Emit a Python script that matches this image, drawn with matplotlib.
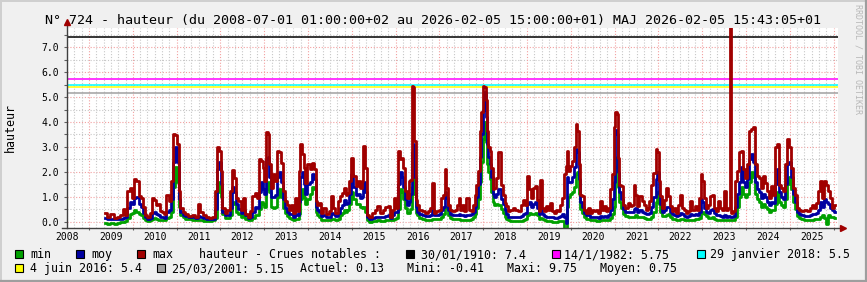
import matplotlib
matplotlib.use('Agg')
import numpy as np
import matplotlib.pyplot as plt
from matplotlib.patches import Rectangle
from matplotlib.lines import Line2D

#--- data: hauteur (m), time as decimal years ---#
dates = [
    2009.37, 2009.44, 2009.52, 2009.60, 2009.67, 2009.75, 2009.79, 2009.85, 2009.90, 2009.95,
    2010.00, 2010.05, 2010.11, 2010.15, 2010.20, 2010.24, 2010.30, 2010.36, 2010.41, 2010.46,
    2010.50, 2010.55, 2010.59, 2010.64, 2010.68, 2010.74, 2010.79, 2010.84, 2010.89, 2010.94,
    2010.99, 2011.03, 2011.06, 2011.11, 2011.16, 2011.23, 2011.31, 2011.38, 2011.46, 2011.51,
    2011.55, 2011.63, 2011.70, 2011.78, 2011.84, 2011.90, 2011.95, 2011.99, 2012.02, 2012.07,
    2012.13, 2012.19, 2012.24, 2012.28, 2012.32, 2012.37, 2012.43, 2012.49, 2012.54, 2012.60,
    2012.66,
    2012.70, 2012.75, 2012.81, 2012.85, 2012.91, 2012.94, 2012.98, 2013.02, 2013.06, 2013.10,
    2013.13, 2013.17, 2013.22, 2013.26, 2013.31, 2013.36, 2013.40, 2013.45, 2013.49, 2013.54,
    2013.58, 2013.63, 2013.68, 2013.72, 2013.77, 2013.80, 2013.84, 2013.88, 2013.92, 2013.96,
    2014.01, 2014.06, 2014.10, 2014.15, 2014.19, 2014.24, 2014.28, 2014.33, 2014.37, 2014.44,
    2014.50, 2014.56, 2014.60, 2014.65, 2014.70, 2014.74, 2014.79, 2014.83, 2014.88, 2014.92,
    2014.97, 2015.01, 2015.06, 2015.11, 2015.15, 2015.20, 2015.24, 2015.29, 2015.33, 2015.36,
    2015.43, 2015.49, 2015.55, 2015.61, 2015.67, 2015.73, 2015.79, 2015.85, 2015.91,
    2015.94, 2015.99, 2016.03, 2016.07, 2016.12, 2016.16, 2016.19, 2016.24, 2016.28, 2016.32,
    2016.35, 2016.38, 2016.41, 2016.44, 2016.47, 2016.51, 2016.57, 2016.63, 2016.70, 2016.76,
    2016.80, 2016.85, 2016.89, 2016.95, 2017.01, 2017.06, 2017.11, 2017.14, 2017.18, 2017.23,
    2017.27, 2017.32, 2017.37, 2017.41, 2017.46, 2017.50, 2017.55, 2017.59, 2017.64, 2017.69,
    2017.73, 2017.78, 2017.82, 2017.87, 2017.91, 2017.94, 2017.97, 2018.00, 2018.04, 2018.07,
    2018.10, 2018.13, 2018.16, 2018.20, 2018.23, 2018.28, 2018.32, 2018.37, 2018.42, 2018.46,
    2018.51, 2018.55, 2018.60, 2018.64, 2018.70, 2018.77, 2018.83, 2018.89, 2018.93, 2018.98,
    2019.02, 2019.07, 2019.12, 2019.16, 2019.21, 2019.25,
    2019.28, 2019.32, 2019.37, 2019.41, 2019.46, 2019.50, 2019.55, 2019.60, 2019.64, 2019.69,
    2019.73, 2019.78, 2019.82, 2019.87, 2019.90, 2019.93, 2019.96, 2020.01, 2020.05, 2020.09,
    2020.13, 2020.16, 2020.19, 2020.24, 2020.28, 2020.33, 2020.37, 2020.42, 2020.46, 2020.51,
    2020.55, 2020.60, 2020.65, 2020.69, 2020.74, 2020.78, 2020.83, 2020.87, 2020.92, 2020.97,
    2021.00, 2021.03, 2021.06, 2021.09, 2021.13, 2021.18, 2021.22, 2021.27, 2021.32, 2021.36,
    2021.41, 2021.45, 2021.50, 2021.54, 2021.59, 2021.64, 2021.68, 2021.73, 2021.77, 2021.82,
    2021.86, 2021.91, 2021.96, 2021.99, 2022.02, 2022.06, 2022.11, 2022.15, 2022.20, 2022.24,
    2022.29, 2022.34, 2022.38, 2022.43, 2022.47, 2022.52, 2022.56,
    2022.60, 2022.65, 2022.71, 2022.75, 2022.80, 2022.85, 2022.89, 2022.94, 2022.98, 2023.01,
    2023.06, 2023.10, 2023.15, 2023.20, 2023.24, 2023.29, 2023.33, 2023.38, 2023.42, 2023.47,
    2023.51, 2023.56, 2023.61, 2023.64, 2023.68, 2023.73, 2023.77, 2023.82, 2023.87, 2023.91,
    2023.96, 2024.00, 2024.05, 2024.09, 2024.14, 2024.19, 2024.23, 2024.27, 2024.32, 2024.37,
    2024.41, 2024.46, 2024.50, 2024.55, 2024.60, 2024.64, 2024.69, 2024.73, 2024.78, 2024.82,
    2024.87, 2024.92, 2024.96, 2025.01, 2025.05, 2025.10, 2025.14, 2025.19, 2025.23, 2025.30,
    2025.36, 2025.42, 2025.48, 2025.52, 2025.57, 2025.62, 2025.66, 2025.71, 2025.75, 2025.80,
    2025.84, 2025.89, 2025.93, 2025.98, 2026.03,
]
h_max = [
    .34, .20, .30, .16, .20, .27, .50, .27, 1.22, 1.36,
    .95, 1.73, 1.63, 1.02, .95, .57, .27, .20, .34, .95,
    .88, .65, .70, .43, .38, .30, 1.08, .81, 1.63, 3.50,
    3.46, 3.12, 1.22, .54, .38, .30, .24, .27, .20, .70,
    .38, .27, .20, .14, .20, 1.22, 2.98, 2.85, 2.03, .54,
    .34, .47, 1.22, 2.06, 1.76, .95, .81, .47, .95, .30,
    .20,
    .41, 1.02, 1.15, .95, 2.50, 2.44, 2.17, 1.63, 3.59, 3.52,
    2.30, 1.36, 1.90, 1.63, 2.85, 2.78, 2.37, 1.22, .81, .68,
    .47, .68, .34, .95, .41, 2.03, 3.12, 2.71, 2.17, 1.56,
    2.30, 2.10, 2.37, 2.10, .81, .68, .75, .34, .54, .30,
    .41, 1.02, .54, .34, .81, 1.02, 1.15, 1.36, 1.08, 1.15,
    1.63, 2.57, 1.83, 1.42, 1.63, 1.36, 1.63, 3.05, 2.17, .27,
    .20, .34, .47, .61, .34, .47, .57, .61, .20,
    .47, .95, .54, 2.85, 2.50, 2.57, 2.17, 1.22, .95, 1.63,
    1.69, 5.45, 5.42, 3.25, .88, .68, .47, .41, .34, .41,
    .54, 1.56, .34, .41, .47, .95, 1.08, 2.10, 1.36, .68,
    .47, .41, .47, .68, .95, .47, .68, .41, .95, .47,
    .41, .68, 1.08, 1.49, 2.03, 3.66, 4.40, 5.45, 5.42, 4.88,
    3.66, 2.98, 2.85, 2.17, 1.29, 1.36, 1.76, 2.78, 1.49, 1.08,
    .75, .61, .41, .47, .54, .47, .41, .68, .88, .68,
    1.83, 1.29, .95, 1.36, 1.42, .88,
    .41, 1.69, .54, .41, .61, .47, .75, .41, .34, .47,
    .41, .68, .95, 1.90, 2.24, 2.85, 2.03, 2.24, 2.44, 2.98,
    3.93, 3.66, 2.30, 1.08, 1.02, .47, .34, .54, .34, .47,
    .41, .47, .34, .81, .47, .61, .41, .54, 1.29, 1.90,
    3.79, 4.40, 4.34, 2.57, 1.49, 1.42, .68, .54, .75, .61,
    .68, 1.49, 1.08, .61, 1.02, .81, .68, .47, .54, .81,
    1.49, 1.96, 2.91, 2.78, 1.63, 1.02, .54, .88, 1.36, 1.02,
    .61, .41, .54, .34, .68, 1.08, .54,
    .47, .34, .41, .81, .47, .61, .47, .95, 1.90, 1.63,
    .95, .54, .68, 1.02, 1.08, .54, .41, .81, .54, .47,
    1.22, .47, .54, 9.75, .34, .41, 1.63, 2.03, 2.78, 2.85,
    2.10, 1.76, 2.30, 3.66, 3.73, 3.79, 2.30, 1.83, 1.76, 1.36,
    1.83, 1.56, 1.22, .95, 1.42, 1.08, 2.98, 3.12, 1.49, 1.36,
    1.22, 2.30, 3.32, 2.98, 2.17, 1.36, 1.08, .54, .47, .41,
    .47, .41, .54, .68, .54, .75, 1.22, 1.63, .95, 1.63,
    1.49, 1.22, .95, .54, .68,
]
h_moy = [
    .15, .12, .12, .10, .10, .12, .15, .18, .55, .80,
    .70, .95, 1.00, .70, .60, .35, .18, .12, .15, .35,
    .40, .30, .28, .20, .18, .15, .40, .45, .90, 2.40,
    3.00, 2.40, .90, .40, .28, .22, .18, .18, .15, .22,
    .18, .14, .12, .10, .12, .50, 2.10, 2.40, 1.50, .40,
    .25, .28, .55, 1.40, 1.20, .70, .50, .35, .45, .25,
    .15,
    .20, .40, .60, .55, 1.20, 1.60, 1.30, 1.10, 2.50, 2.60,
    1.80, 1.00, 1.00, 1.05, 1.80, 2.00, 1.60, .90, .55, .40,
    .30, .30, .20, .30, .25, .80, 1.80, 2.00, 1.50, 1.10,
    1.50, 1.60, 1.90, 1.70, .60, .45, .40, .22, .25, .18,
    .20, .35, .30, .22, .35, .55, .65, .85, .70, .75,
    1.10, 1.90, 1.40, 1.05, 1.10, .95, 1.00, 1.60, 1.20, .18,
    .12, .15, .18, .20, .18, .18, .22, .25, .15,
    .25, .40, .40, 1.50, 2.00, 1.80, 1.40, .90, .65, .80,
    1.10, 2.80, 3.10, 1.80, .60, .40, .30, .25, .22, .22,
    .25, .45, .25, .25, .30, .45, .60, 1.20, .95, .45,
    .30, .25, .25, .28, .30, .25, .25, .22, .28, .25,
    .30, .40, .60, 1.00, 1.50, 2.60, 3.50, 4.50, 5.20, 4.20,
    3.10, 2.60, 2.30, 1.80, 1.10, 1.00, 1.10, 1.30, .90, .70,
    .45, .30, .20, .18, .18, .20, .20, .22, .30, .35,
    .70, .80, .60, .70, .80, .55,
    .30, .55, .30, .22, .20, .18, .20, .18, .16, .16,
    .18, .22, .30, .20, -.05, 1.80, 1.60, 1.60, 1.80, 2.20,
    2.90, 2.80, 1.70, .80, .60, .35, .25, .25, .20, .20,
    .18, .18, .16, .22, .20, .22, .20, .25, .45, .90,
    1.60, 3.70, 3.50, 2.00, 1.20, .90, .50, .40, .40, .40,
    .40, .50, .55, .40, .45, .40, .35, .30, .30, .35,
    .60, 1.00, 1.70, 2.00, 1.10, .70, .40, .45, .60, .60,
    .40, .30, .28, .22, .25, .35, .30,
    .22, .20, .22, .30, .28, .30, .28, .40, .90, .80,
    .55, .40, .35, .45, .50, .35, .25, .25, .22, .20,
    .25, .20, .22, .20, .18, .22, .60, 1.10, 1.60, 2.20,
    1.60, 1.40, 1.70, 2.50, 2.70, 2.40, 1.60, 1.30, 1.20, .95,
    1.10, 1.00, .80, .65, .80, .75, 1.50, 2.10, 1.20, 1.00,
    .90, 1.50, 2.30, 2.40, 1.80, 1.10, .80, .40, .30, .25,
    .22, .22, .25, .30, .30, .35, .45, .80, .60, .90,
    .80, .70, .55, .45, .40,
]
h_min = [
    -.05, -.10, -.05, -.08, -.05, -.02, .00, .02, .15, .30,
    .35, .45, .40, .30, .25, .15, .05, .02, .05, .10,
    .15, .10, .08, .05, .05, .05, .15, .20, .40, 1.40,
    2.20, 1.60, .60, .25, .18, .12, .10, .08, .05, .08,
    .06, .04, .02, .02, .05, .15, 1.20, 1.60, 1.00, .30,
    .15, .15, .25, .80, .70, .40, .30, .20, .25, .10,
    .05,
    .05, .15, .25, .25, .50, .80, .70, .60, 1.30, 1.60,
    1.20, .60, .55, .60, 1.00, 1.30, 1.00, .55, .35, .22,
    .15, .12, .08, .10, .10, .30, .90, 1.30, 1.00, .70,
    .90, 1.10, 1.40, 1.30, .40, .25, .20, .08, .08, .05,
    .05, .10, .10, .08, .12, .25, .35, .45, .40, .45,
    .70, 1.20, .90, .70, .70, .60, .55, .60, .40, .05,
    .00, .02, .03, .05, .03, .03, .05, .08, .05,
    .08, .12, .15, .50, 1.30, 1.20, .90, .55, .35, .35,
    .50, 1.40, 2.30, 1.10, .35, .25, .15, .10, .08, .08,
    .08, .12, .10, .10, .12, .18, .30, .60, .55, .25,
    .15, .10, .10, .10, .10, .08, .08, .06, .08, .08,
    .12, .18, .30, .55, .90, 1.60, 2.40, 3.30, 4.00, 3.20,
    2.30, 2.00, 1.70, 1.20, .80, .65, .70, .65, .50, .35,
    .20, .10, .05, .02, .02, .03, .02, .03, .05, .10,
    .25, .35, .30, .30, .35, .25,
    .10, .15, .10, .05, .03, .02, .02, .00, .00, .00,
    .02, .03, .02, -.30, -.38, .60, 1.00, 1.10, 1.20, 1.40,
    1.90, 2.00, 1.10, .50, .35, .20, .12, .10, .08, .06,
    .05, .04, .04, .05, .05, .06, .06, .08, .15, .30,
    .60, 2.20, 2.60, 1.40, .80, .55, .30, .22, .20, .20,
    .20, .20, .25, .20, .20, .18, .15, .12, .12, .12,
    .20, .40, .80, 1.20, .70, .40, .22, .22, .28, .30,
    .20, .12, .10, .08, .08, .10, .10,
    .06, .05, .06, .08, .08, .10, .10, .15, .35, .40,
    .30, .22, .15, .15, .20, .12, .08, .06, .05, .05,
    .05, .05, .06, .05, .05, .08, .20, .60, 1.00, 1.40,
    1.10, 1.00, 1.10, 1.60, 2.00, 1.80, 1.10, .90, .80, .60,
    .70, .60, .50, .40, .45, .45, .70, 1.20, .80, .65,
    .60, .90, 1.50, 1.80, 1.30, .80, .50, .22, .15, .10,
    .08, .08, .08, .08, .10, .10, .10, .20, .25, .15,
    -.10, .25, .20, .20, .13,
]

#--- reference floods ---#
crue_labels = ['30/01/1910: 7.4', '14/1/1982: 5.75', '29 janvier 2018: 5.5',
               '4 juin 2016: 5.4', '25/03/2001: 5.15']
crue_values = [7.4, 5.75, 5.5, 5.4, 5.15]
crue_colors = ['#000000', '#ff00ff', '#00ffff', '#ffff00', '#a0a0a0']

year_labels = list(range(2008, 2026))
stat_labels = ['Actuel: 0.13', 'Mini: -0.41', 'Maxi: 9.75', 'Moyen: 0.75']
title = ('N\u00b0 724 - hauteur (du 2008-07-01 01:00:00+02 au 2026-02-05 15:00:00+01) '
         'MAJ 2026-02-05 15:43:05+01')

#--- figure setup (pixel based, like rrdtool) ---#
W, H = 867, 282
plt.rcParams['font.family'] = 'DejaVu Sans Mono'
fig = plt.figure(figsize=(W/100.0, H/100.0), dpi=100, facecolor='#f0f0f0')
ax_top, ax_bot, ax_l, ax_r = 28.0, 228.3, 67.0, 838.0
ax = fig.add_axes([ax_l/W, 1-ax_bot/H, (ax_r-ax_l)/W, (ax_bot-ax_top)/H])
ax.set_facecolor('white')
t0, t1 = 2008.496, 2026.099
ax.set_xlim(t0, t1)
ax.set_ylim(-0.27, 7.78)
for s in ax.spines.values():
    s.set_visible(False)

#--- grid ---#
dot = (0, (1, 1.6))
for y in np.arange(0.5, 8.0, 1.0):
    ax.axhline(y, color='#c8c8c8', lw=0.8, ls=dot, zorder=0)
for y in np.arange(0.0, 8.0, 1.0):
    ax.axhline(y, color='#f2a0a0', lw=0.8, ls=dot, zorder=0)
for yr in range(2008, 2027):
    for k in range(1, 6):
        t = yr + k/6.0
        if t0 < t < t1:
            ax.axvline(t, color='#c8c8c8', lw=0.8, ls=dot, zorder=0)
    if t0 < yr < t1:
        ax.axvline(yr, color='#f2a0a0', lw=0.8, ls=dot, zorder=0)

#--- flood levels ---#
for v, c in zip(crue_values, crue_colors):
    ax.axhline(v, color=c, lw=1.1, zorder=2)

#--- series ---#
ax.plot(dates, h_min, color='#00a000', lw=2.0, drawstyle='steps-mid', zorder=3)
ax.plot(dates, h_moy, color='#0000a0', lw=2.0, drawstyle='steps-mid', zorder=4)
ax.plot(dates, h_max, color='#a00000', lw=2.0, drawstyle='steps-mid', zorder=5)

#--- ticks ---#
ax.set_yticks(np.arange(0, 8, 1.0))
ax.set_yticklabels(['%.1f' % v for v in np.arange(0, 8, 1.0)])
ax.set_yticks(np.arange(0.5, 8, 1.0), minor=True)
ax.tick_params(axis='y', which='both', direction='out', length=2.2, width=0.8,
               color='#606060', labelsize=7, pad=3.5)
ax.set_xticks(range(2009, 2027))
ax.set_xticklabels([])
ax.tick_params(axis='x', which='both', direction='out', length=1.5, width=0.8, color='#606060')
xtr = ax.get_xaxis_transform()
for yr in year_labels:
    ax.text(yr + 0.5, -9.0/(ax_bot-ax_top), str(yr), transform=xtr, ha='center', va='center',
            fontsize=7, clip_on=False)

#--- axes with arrows ---#
ax.plot([0, 0], [0, 1.025], transform=ax.transAxes, color='#404040', lw=1, clip_on=False, zorder=6)
ax.plot([-0.006, 1.004], [0, 0], transform=ax.transAxes, color='#404040', lw=1, clip_on=False, zorder=6)
ax.plot([0], [1.03], marker='^', ms=4, color='#a00000', transform=ax.transAxes, clip_on=False, zorder=7)
ax.plot([1.006], [0], marker='>', ms=4, color='#a00000', transform=ax.transAxes, clip_on=False, zorder=7)

#--- texts ---#
fig.text(433/W, 1-24.0/H, title, ha='center', va='baseline', fontsize=9.6, color='#000000')
fig.text(10/W, 1-127/H, 'hauteur', rotation=90, ha='center', va='center', fontsize=8.4)
fig.text(858/W, 1-4/H, 'RRDTOOL / TOBI OETIKER', rotation=270, ha='center', va='top',
         fontsize=6, color='#b8b8b8')

#--- legend ---#
def legend_box(x, y, color):
    fig.add_artist(Rectangle((x/W, 1-(y+4)/H), 8.0/W, 8.0/H, transform=fig.transFigure,
                             facecolor=color, edgecolor='black', lw=0.8))
def legend_text(x, y, s):
    fig.text(x/W, 1-(y+4.3)/H, s, ha='left', va='baseline', fontsize=8.4)

r1, r2 = 254, 268
legend_box(15, r1, '#00a000'); legend_text(30, r1, 'min')
legend_box(76, r1, '#0000a0'); legend_text(91, r1, 'moy')
legend_box(137, r1, '#a00000'); legend_text(152, r1, 'max')
legend_text(199, r1, 'hauteur - Crues notables :')
legend_box(406, r1, crue_colors[0]); legend_text(421, r1, crue_labels[0])
legend_box(552, r1, crue_colors[1]); legend_text(564, r1, crue_labels[1])
legend_box(697, r1, crue_colors[2]); legend_text(710, r1, crue_labels[2])
legend_box(15, r2, crue_colors[3]); legend_text(30, r2, crue_labels[3])
legend_box(157, r2, crue_colors[4]); legend_text(172, r2, crue_labels[4])
for x, s in zip([300, 407, 507, 600], stat_labels):
    legend_text(x, r2, s)

#--- 3D-ish border ---#
fig.add_artist(Line2D([0, 1], [1-0.7/H]*2, transform=fig.transFigure, color='#cfcfcf', lw=1.4))
fig.add_artist(Line2D([0.7/W]*2, [0, 1], transform=fig.transFigure, color='#cfcfcf', lw=1.4))
fig.add_artist(Line2D([0, 1], [1.0/H]*2, transform=fig.transFigure, color='#9e9e9e', lw=1.6))
fig.add_artist(Line2D([1-1.0/W]*2, [0, 1], transform=fig.transFigure, color='#9e9e9e', lw=1.6))

fig.savefig('out.png', dpi=100, facecolor=fig.get_facecolor())
